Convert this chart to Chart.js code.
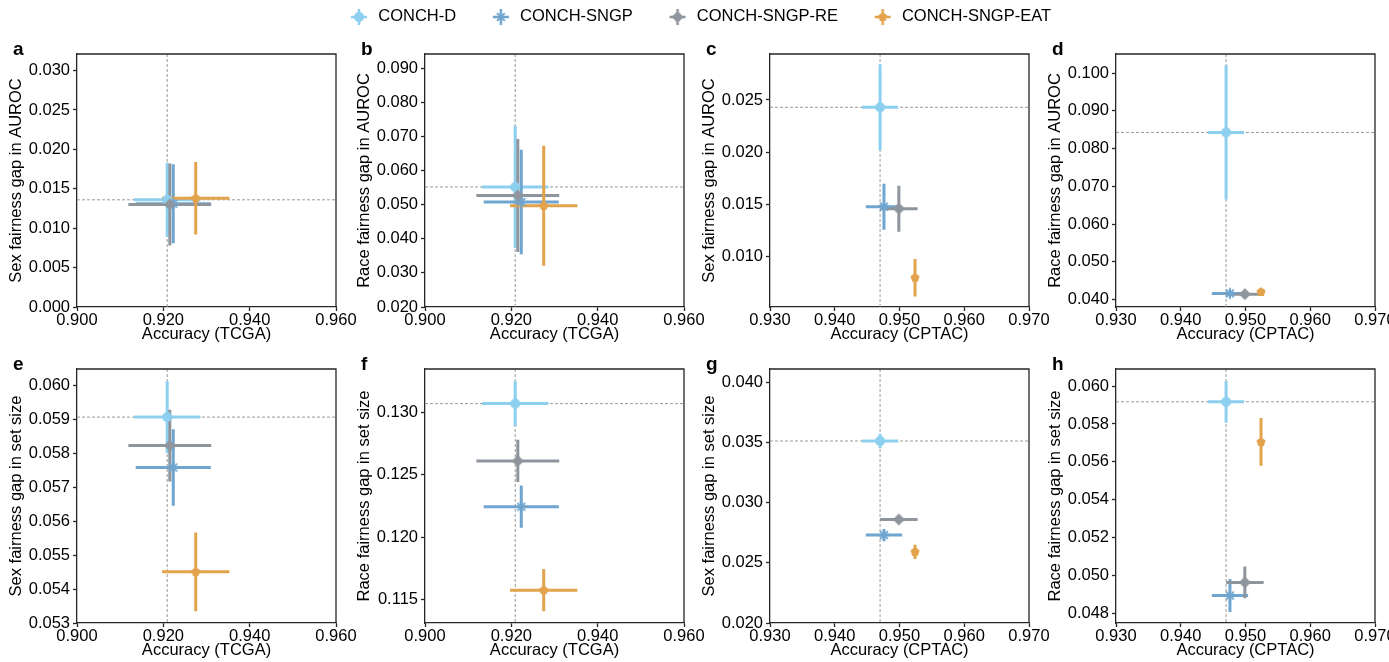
<!DOCTYPE html>
<html lang="en">
<head>
  <meta charset="UTF-8" />
  <title>Fairness gap vs accuracy</title>
  <script src="https://cdn.jsdelivr.net/npm/chart.js@4"></script>
  <style>
    * { margin: 0; padding: 0; box-sizing: border-box; }
    body {
      width: 1389px;
      height: 662px;
      background: #fff;
      overflow: hidden;
      position: relative;
    }
    canvas { position: absolute; }
  </style>
</head>
<body>
  <canvas id="legend" width="1389" height="140" style="left:0;top:-25px"></canvas>

  <script>
    // ---- data ----
    const models = ['CONCH-D', 'CONCH-SNGP', 'CONCH-SNGP-RE', 'CONCH-SNGP-EAT'];

    const tcgaAcc = [0.9209, 0.9223, 0.9215, 0.9275];
    const tcgaAccErr = [0.0077, 0.0087, 0.0096, 0.0078];
    const cptacAcc = [0.9470, 0.9476, 0.9499, 0.9524];
    const cptacAccErr = [0.0028, 0.0028, 0.0029, 0.0003];

    const sexAurocTcga = [0.0136, 0.0131, 0.0130, 0.0138];
    const sexAurocTcgaErr = [0.0047, 0.0050, 0.0052, 0.0046];
    const raceAurocTcga = [0.0552, 0.0508, 0.0527, 0.0497];
    const raceAurocTcgaErr = [0.0179, 0.0153, 0.0166, 0.0176];
    const sexAurocCptac = [0.0243, 0.0148, 0.0146, 0.0080];
    const sexAurocCptacErr = [0.0041, 0.0022, 0.0022, 0.0018];
    const raceAurocCptac = [0.0843, 0.0416, 0.0414, 0.0420];
    const raceAurocCptacErr = [0.0178, 0.0003, 0.0003, 0.0003];

    const sexSetTcga = [0.05908, 0.05759, 0.05824, 0.05451];
    const sexSetTcgaErr = [0.00106, 0.00113, 0.00106, 0.00116];
    const raceSetTcga = [0.13072, 0.12244, 0.12612, 0.11574];
    const raceSetTcgaErr = [0.0018, 0.0017, 0.0017, 0.0017];
    const sexSetCptac = [0.03512, 0.0273, 0.0286, 0.02591];
    const sexSetCptacErr = [0.0006, 0.0005, 0.0002, 0.0006];
    const raceSetCptac = [0.05917, 0.04895, 0.04964, 0.05705];
    const raceSetCptacErr = [0.0011, 0.00087, 0.00084, 0.00126];

    const tcgaTicks = [0.900, 0.920, 0.940, 0.960];
    const cptacTicks = [0.930, 0.940, 0.950, 0.960, 0.970];
    const yTicksA = [0.000, 0.005, 0.010, 0.015, 0.020, 0.025, 0.030];
    const yTicksB = [0.020, 0.030, 0.040, 0.050, 0.060, 0.070, 0.080, 0.090];
    const yTicksC = [0.010, 0.015, 0.020, 0.025];
    const yTicksD = [0.040, 0.050, 0.060, 0.070, 0.080, 0.090, 0.100];
    const yTicksE = [0.053, 0.054, 0.055, 0.056, 0.057, 0.058, 0.059, 0.060];
    const yTicksF = [0.115, 0.120, 0.125, 0.130];
    const yTicksG = [0.020, 0.025, 0.030, 0.035, 0.040];
    const yTicksH = [0.048, 0.050, 0.052, 0.054, 0.056, 0.058, 0.060];

    // ---- style ----
    const colors = ['#8ccfee', '#6fa5cf', '#8f959d', '#e2a34c'];
    const shapes = ['circle', 'star', 'diamond', 'pentagon'];
    const ink = '#262626';
    const FONT = "'Liberation Sans', Arial, sans-serif";

    Chart.defaults.font.family = FONT;
    Chart.defaults.color = '#000';

    function drawShape(g, shape, cx, cy, color) {
      g.fillStyle = color;
      g.strokeStyle = color;
      g.beginPath();
      if (shape === 'circle') {
        g.arc(cx, cy, 5, 0, Math.PI * 2);
        g.fill();
      } else if (shape === 'diamond') {
        g.moveTo(cx, cy - 6); g.lineTo(cx + 6, cy); g.lineTo(cx, cy + 6); g.lineTo(cx - 6, cy);
        g.closePath();
        g.fill();
      } else if (shape === 'pentagon') {
        for (let k = 0; k < 5; k++) {
          const a = -Math.PI / 2 + k * 2 * Math.PI / 5;
          const px = cx + 4.8 * Math.cos(a), py = cy + 4.8 * Math.sin(a);
          k ? g.lineTo(px, py) : g.moveTo(px, py);
        }
        g.closePath();
        g.fill();
      } else {
        g.lineWidth = 2;
        for (let k = 0; k < 4; k++) {
          const a = k * Math.PI / 4;
          g.moveTo(cx - 5.5 * Math.cos(a), cy - 5.5 * Math.sin(a));
          g.lineTo(cx + 5.5 * Math.cos(a), cy + 5.5 * Math.sin(a));
        }
        g.stroke();
      }
    }

    function makeIcon(i, withBars) {
      const size = withBars ? 18 : 14;
      const c = document.createElement('canvas');
      c.width = size; c.height = size;
      const g = c.getContext('2d');
      const m = size / 2;
      if (withBars) {
        g.strokeStyle = colors[i];
        g.lineWidth = 2.5;
        g.beginPath();
        g.moveTo(1, m); g.lineTo(size - 1, m);
        g.moveTo(m, 1); g.lineTo(m, size - 1);
        g.stroke();
      }
      drawShape(g, shapes[i], m, m, colors[i]);
      return c;
    }

    const markers = models.map((_, i) => makeIcon(i, false));
    const legendIcons = models.map((_, i) => makeIcon(i, true));

    // error bars, reference lines, frame and panel letter
    const panelDecor = {
      id: 'panelDecor',
      beforeDatasetsDraw(chart) {
        const { ctx, chartArea: a, scales: { x, y } } = chart;
        const ref = chart.data.datasets[0].data[0];
        ctx.save();
        ctx.strokeStyle = '#9a9a9a';
        ctx.lineWidth = 1;
        ctx.setLineDash([3, 2]);
        const rx = x.getPixelForValue(ref.x), ry = y.getPixelForValue(ref.y);
        ctx.beginPath();
        ctx.moveTo(rx, a.top); ctx.lineTo(rx, a.bottom);
        ctx.moveTo(a.left, ry); ctx.lineTo(a.right, ry);
        ctx.stroke();
        ctx.setLineDash([]);
        ctx.lineWidth = 3;
        chart.data.datasets.forEach(ds => {
          const p = ds.data[0];
          const px = x.getPixelForValue(p.x), py = y.getPixelForValue(p.y);
          ctx.strokeStyle = ds.borderColor;
          ctx.beginPath();
          ctx.moveTo(x.getPixelForValue(p.x - p.xErr), py);
          ctx.lineTo(x.getPixelForValue(p.x + p.xErr), py);
          ctx.moveTo(px, y.getPixelForValue(p.y - p.yErr));
          ctx.lineTo(px, y.getPixelForValue(p.y + p.yErr));
          ctx.stroke();
        });
        ctx.restore();
      },
      afterDraw(chart, args, opts) {
        const { ctx, chartArea: a } = chart;
        ctx.save();
        ctx.strokeStyle = ink;
        ctx.lineWidth = 1.3;
        ctx.beginPath();
        ctx.moveTo(a.left, a.top); ctx.lineTo(a.right, a.top); ctx.lineTo(a.right, a.bottom);
        ctx.stroke();
        ctx.fillStyle = '#000';
        ctx.font = 'bold 19px ' + FONT;
        ctx.textBaseline = 'alphabetic';
        ctx.fillText(opts.letter, a.left - 64, a.top + 0.5);
        ctx.restore();
      }
    };

    const panels = [
      { letter: 'a', left: 0, top: 30, h: 316, acc: tcgaAcc, accErr: tcgaAccErr, val: sexAurocTcga, valErr: sexAurocTcgaErr,
        xTicks: tcgaTicks, xMin: 0.90, xMax: 0.96, yTicks: yTicksA, yMin: 0, yMax: 0.0321,
        xTitle: 'Accuracy (TCGA)', yTitle: 'Sex fairness gap in AUROC' },
      { letter: 'b', left: 348, top: 30, h: 316, acc: tcgaAcc, accErr: tcgaAccErr, val: raceAurocTcga, valErr: raceAurocTcgaErr,
        xTicks: tcgaTicks, xMin: 0.90, xMax: 0.96, yTicks: yTicksB, yMin: 0.020, yMax: 0.0942,
        xTitle: 'Accuracy (TCGA)', yTitle: 'Race fairness gap in AUROC' },
      { letter: 'c', left: 693, top: 30, h: 316, acc: cptacAcc, accErr: cptacAccErr, val: sexAurocCptac, valErr: sexAurocCptacErr,
        xTicks: cptacTicks, xMin: 0.93, xMax: 0.97, yTicks: yTicksC, yMin: 0.0052, yMax: 0.0294,
        xTitle: 'Accuracy (CPTAC)', yTitle: 'Sex fairness gap in AUROC' },
      { letter: 'd', left: 1039, top: 30, h: 316, acc: cptacAcc, accErr: cptacAccErr, val: raceAurocCptac, valErr: raceAurocCptacErr,
        xTicks: cptacTicks, xMin: 0.93, xMax: 0.97, yTicks: yTicksD, yMin: 0.038, yMax: 0.1051,
        xTitle: 'Accuracy (CPTAC)', yTitle: 'Race fairness gap in AUROC' },
      { letter: 'e', left: 0, top: 345, h: 317, acc: tcgaAcc, accErr: tcgaAccErr, val: sexSetTcga, valErr: sexSetTcgaErr,
        xTicks: tcgaTicks, xMin: 0.90, xMax: 0.96, yTicks: yTicksE, yMin: 0.053, yMax: 0.0605,
        xTitle: 'Accuracy (TCGA)', yTitle: 'Sex fairness gap in set size' },
      { letter: 'f', left: 348, top: 345, h: 317, acc: tcgaAcc, accErr: tcgaAccErr, val: raceSetTcga, valErr: raceSetTcgaErr,
        xTicks: tcgaTicks, xMin: 0.90, xMax: 0.96, yTicks: yTicksF, yMin: 0.1131, yMax: 0.1335,
        xTitle: 'Accuracy (TCGA)', yTitle: 'Race fairness gap in set size' },
      { letter: 'g', left: 693, top: 345, h: 317, acc: cptacAcc, accErr: cptacAccErr, val: sexSetCptac, valErr: sexSetCptacErr,
        xTicks: cptacTicks, xMin: 0.93, xMax: 0.97, yTicks: yTicksG, yMin: 0.020, yMax: 0.0411,
        xTitle: 'Accuracy (CPTAC)', yTitle: 'Sex fairness gap in set size' },
      { letter: 'h', left: 1039, top: 345, h: 317, acc: cptacAcc, accErr: cptacAccErr, val: raceSetCptac, valErr: raceSetCptacErr,
        xTicks: cptacTicks, xMin: 0.93, xMax: 0.97, yTicks: yTicksH, yMin: 0.0475, yMax: 0.0609,
        xTitle: 'Accuracy (CPTAC)', yTitle: 'Race fairness gap in set size' }
    ];

    const tickFont = { size: 16.5 };
    const axisLines = {
      grid: { display: true, drawOnChartArea: false, drawTicks: true, tickLength: 4, tickWidth: 1.3, tickColor: ink },
      border: { display: true, color: ink, width: 1.3 }
    };

    panels.forEach(p => {
      const cv = document.createElement('canvas');
      cv.width = 360;
      cv.height = p.h;
      cv.style.left = p.left + 'px';
      cv.style.top = p.top + 'px';
      document.body.appendChild(cv);

      new Chart(cv, {
        type: 'scatter',
        data: {
          datasets: models.map((name, i) => ({
            label: name,
            data: [{ x: p.acc[i], y: p.val[i], xErr: p.accErr[i], yErr: p.valErr[i] }],
            pointStyle: markers[i],
            backgroundColor: colors[i],
            borderColor: colors[i],
            order: models.length - i
          }))
        },
        options: {
          responsive: false,
          devicePixelRatio: 1,
          animation: false,
          events: [],
          layout: { padding: { top: 24, right: 24, left: 0, bottom: 0 } },
          plugins: {
            legend: { display: false },
            tooltip: { enabled: false },
            panelDecor: { letter: p.letter }
          },
          scales: {
            x: {
              type: 'linear',
              min: p.xMin,
              max: p.xMax,
              afterBuildTicks: s => { s.ticks = p.xTicks.map(v => ({ value: v })); },
              afterFit: s => { s.height = 39; },
              ticks: { font: tickFont, padding: 0, maxRotation: 0, callback: v => v.toFixed(3) },
              title: { display: true, text: p.xTitle, font: tickFont, padding: { top: 0, bottom: 2 } },
              ...axisLines
            },
            y: {
              type: 'linear',
              min: p.yMin,
              max: p.yMax,
              afterBuildTicks: s => { s.ticks = p.yTicks.map(v => ({ value: v })); },
              afterFit: s => { s.width = 77; },
              ticks: { font: tickFont, padding: 3, callback: v => v.toFixed(3) },
              title: { display: true, text: p.yTitle, font: tickFont, padding: { top: 7, bottom: 0 } },
              ...axisLines
            }
          }
        },
        plugins: [panelDecor]
      });
    });

    // shared legend across the top
    new Chart(document.getElementById('legend'), {
      type: 'scatter',
      data: { datasets: models.map((name, i) => ({ label: name, data: [], backgroundColor: colors[i] })) },
      options: {
        responsive: false,
        devicePixelRatio: 1,
        animation: false,
        events: [],
        layout: { padding: { left: 10 } },
        scales: { x: { display: false }, y: { display: false } },
        plugins: {
          tooltip: { enabled: false },
          legend: {
            display: true,
            position: 'top',
            maxHeight: 120,
            labels: {
              usePointStyle: true,
              pointStyleWidth: 22,
              padding: 33.7,
              font: { size: 16.5 },
              color: '#000',
              generateLabels: () => models.map((name, i) => ({
                text: name,
                pointStyle: legendIcons[i],
                fillStyle: colors[i],
                strokeStyle: colors[i],
                lineWidth: 0,
                hidden: false,
                datasetIndex: i
              }))
            }
          }
        }
      }
    });
  </script>
</body>
</html>
